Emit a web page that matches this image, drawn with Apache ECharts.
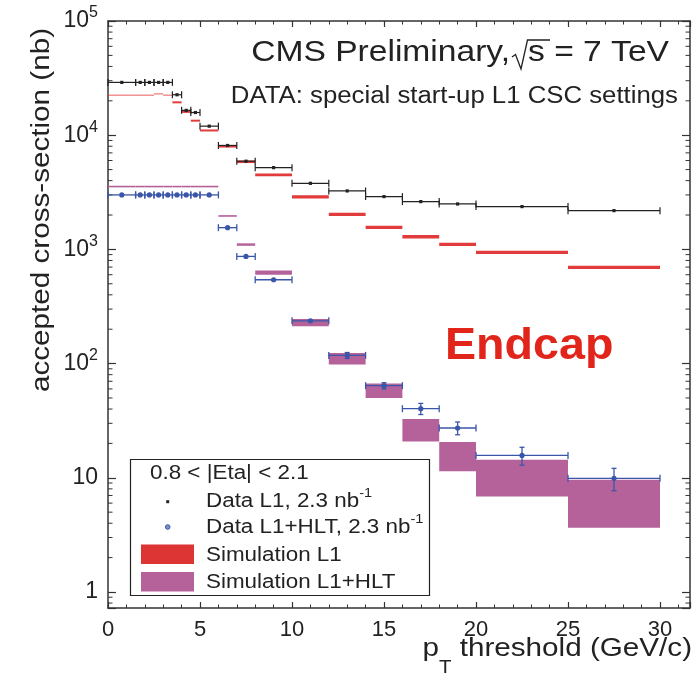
<!DOCTYPE html>
<html><head><meta charset="utf-8">
<script src="https://cdn.jsdelivr.net/npm/echarts@6/dist/echarts.min.js"></script>
<style>html,body{margin:0;padding:0;background:#fff}#c{width:695px;height:677px}</style>
</head><body><div id="c"></div>
<script>
// ---- data ----
const binEdges = [0, 1.5, 2, 2.5, 3, 3.5, 4, 4.5, 5, 6, 7, 8, 10, 12, 14, 16, 18, 20, 25, 30];
const dataL1 = [29000, 29000, 29000, 29000, 29000, 22600, 16500, 15800, 12000, 8130, 5920, 5200, 3790, 3250, 2900, 2620, 2500, 2370, 2185];
const dataHLT = [3000, 3000, 3000, 3000, 3000, 3000, 3000, 3000, 3000, 1550, 868, 542, 237, 118, 64, 40.3, 27.3, 15.7, 9.9];
const dataHLTErr = [0, 0, 0, 0, 0, 0, 0, 0, 0, 0, 0, 0, 4, 7, 4, 4.5, 3.5, 2.8, 2.2];
const simL1 = [22400, 22400, 22400, 23000, 22400, 19400, 16000, 13400, 11000, 8000, 5850, 4490, 2880, 2030, 1560, 1290, 1107, 942, 695];
const simHLTLo = [3500, 3500, 3500, 3500, 3500, 3500, 3500, 3500, 3500, 1930, 1075, 600, 212, 98, 50, 20.8, 11.4, 6.86, 3.66];
const simHLTHi = [3600, 3600, 3600, 3600, 3600, 3600, 3600, 3600, 3600, 1995, 1130, 655, 246, 124, 67, 32.7, 20.6, 14.4, 9.6];
const yDecades = [0, 1, 2, 3, 4, 5];
const minorMultipliers = [2, 3, 4, 5, 6, 7, 8, 9];

const X_MAX = 31.63, Y_MIN = 0.724, Y_MAX = 1e5;
const FONT = '"Liberation Sans", Arial, Helvetica, sans-serif';
const AX = '#333';
const RED = '#e23b3b', MAG = '#b5629b', BLUE = '#3a56a8', BLK = '#222';

const binData = (vals, extra) => vals.map((v, i) => [binEdges[i], binEdges[i + 1], v].concat(extra ? extra.map(a => a[i]) : []));

const minorVals = [];
[-1].concat(yDecades).forEach(d => minorMultipliers.forEach(m => {
  const v = m * Math.pow(10, d);
  if (v > Y_MIN && v < Y_MAX) minorVals.push([0, v]);
}));

const chart = echarts.init(document.getElementById('c'), null, {renderer: 'canvas'});

function yLabel(v) {
  const l = Math.log10(v), e = Math.round(l);
  if (Math.abs(l - e) > 1e-6 || yDecades.indexOf(e) < 0) return '';
  if (e === 0) return '{b|1}';
  if (e === 1) return '{b|10}';
  return '{b|10}{s|' + e + '}';
}

const axisCommon = {
  axisLine: {show: true, onZero: false, lineStyle: {color: AX, width: 1.5}},
  splitLine: {show: false}
};

function lineEl(x1, y1, x2, y2, color, w) {
  return {type: 'line', shape: {x1, y1, x2, y2}, style: {stroke: color, lineWidth: w}};
}

function txt(x, y, text, size, o) {
  o = o || {};
  const style = {
    text, fill: o.color || '#222', fontSize: size, fontFamily: FONT, fontWeight: o.weight || 'normal',
    textAlign: o.align || 'left', textVerticalAlign: 'middle', align: o.align || 'left', verticalAlign: 'middle'
  };
  if (o.rich) style.rich = o.rich;
  return {type: 'text', x, y, rotation: o.rot || 0, scaleX: o.sx || 1.12, z: 100, silent: true, style};
}

const supRich = (size) => ({
  n: {fontSize: size, fontFamily: FONT, fill: '#222', color: '#222', lineHeight: size + 8},
  s: {fontSize: Math.round(size * 0.65), fontFamily: FONT, fill: '#222', color: '#222', verticalAlign: 'top', lineHeight: Math.round(size * 0.65)}
});

const option = {
  animation: false,
  backgroundColor: '#fff',
  grid: {left: 108, top: 21, right: 5, bottom: 69, containLabel: false},
  xAxis: [
    Object.assign({}, axisCommon, {
      type: 'value', min: 0, max: X_MAX, interval: 5, position: 'bottom',
      axisTick: {show: true, inside: true, length: 6, lineStyle: {color: AX, width: 1.2}},
      minorTick: {show: true, splitNumber: 5, length: 3.5, lineStyle: {color: AX, width: 1}},
      axisLabel: {fontSize: 22, color: '#222', fontFamily: FONT, margin: 11, showMaxLabel: false, showMinLabel: true}
    }),
    Object.assign({}, axisCommon, {
      type: 'value', min: 0, max: X_MAX, interval: 5, position: 'top',
      axisTick: {show: true, inside: true, length: 6, lineStyle: {color: AX, width: 1.2}},
      minorTick: {show: true, splitNumber: 5, length: 3.5, lineStyle: {color: AX, width: 1}},
      axisLabel: {show: false}
    })
  ],
  yAxis: [
    Object.assign({}, axisCommon, {
      type: 'log', logBase: 10, min: Y_MIN, max: Y_MAX, position: 'left',
      axisTick: {show: true, inside: true, length: 8, lineStyle: {color: AX, width: 1.2}},
      minorTick: {show: false},
      axisLabel: {
        margin: 10, formatter: yLabel,
        rich: {
          b: {fontSize: 23, fontFamily: FONT, color: '#222', lineHeight: 32},
          s: {fontSize: 16, fontFamily: FONT, color: '#222', lineHeight: 15, verticalAlign: 'top'}
        }
      }
    }),
    Object.assign({}, axisCommon, {
      type: 'log', logBase: 10, min: Y_MIN, max: Y_MAX, position: 'right',
      axisTick: {show: true, inside: true, length: 8, lineStyle: {color: AX, width: 1.2}},
      minorTick: {show: false},
      axisLabel: {show: false}
    })
  ],
  series: [
    { // minor ticks of the log axis (left and right)
      type: 'custom', silent: true, xAxisIndex: 0, yAxisIndex: 0,
      data: minorVals, encode: {x: 0, y: 1},
      renderItem(p, api) {
        const v = api.value(1);
        const a = api.coord([0, v]), b = api.coord([X_MAX, v]);
        return {type: 'group', children: [
          lineEl(a[0], a[1], a[0] + 4.5, a[1], AX, 1),
          lineEl(b[0], b[1], b[0] - 4.5, b[1], AX, 1)
        ]};
      }
    },
    { // Simulation L1
      name: 'Simulation L1', type: 'custom', xAxisIndex: 0, yAxisIndex: 0,
      data: binData(simL1), encode: {x: [0, 1], y: 2},
      renderItem(p, api) {
        const x0 = api.value(0), x1 = api.value(1), y = api.value(2);
        const a = api.coord([x0, y]), b = api.coord([x1, y]);
        const h = x1 <= 3.5 ? 1.3 : (x1 <= 6 ? 2 : (x1 <= 10 ? 2.6 : 3.3));
        return {type: 'rect', shape: {x: a[0], y: a[1] - h / 2, width: b[0] - a[0], height: h},
          style: {fill: RED, opacity: x1 <= 3.5 ? 0.65 : 1}};
      }
    },
    { // Simulation L1+HLT
      name: 'Simulation L1+HLT', type: 'custom', xAxisIndex: 0, yAxisIndex: 0,
      data: binData(simHLTLo, [simHLTHi]), encode: {x: [0, 1], y: [2, 3]},
      renderItem(p, api) {
        const x0 = api.value(0), x1 = api.value(1), lo = api.value(2), hi = api.value(3);
        const a = api.coord([x0, hi]), b = api.coord([x1, lo]);
        let h = b[1] - a[1], yTop = a[1];
        if (h < 1.6) { yTop -= (1.6 - h) / 2; h = 1.6; }
        return {type: 'rect', shape: {x: a[0], y: yTop, width: b[0] - a[0], height: h}, style: {fill: MAG}};
      }
    },
    { // Data L1
      name: 'Data L1', type: 'custom', xAxisIndex: 0, yAxisIndex: 0,
      data: binData(dataL1), encode: {x: [0, 1], y: 2},
      renderItem(p, api) {
        const x0 = api.value(0), x1 = api.value(1), y = api.value(2);
        const a = api.coord([x0, y]), b = api.coord([x1, y]), c = api.coord([(x0 + x1) / 2, y]);
        return {type: 'group', children: [
          lineEl(a[0], a[1], b[0], b[1], BLK, 1.2),
          lineEl(a[0], a[1] - 3.5, a[0], a[1] + 3.5, BLK, 1.2),
          lineEl(b[0], b[1] - 3.5, b[0], b[1] + 3.5, BLK, 1.2),
          {type: 'rect', shape: {x: c[0] - 1.6, y: c[1] - 1.6, width: 3.2, height: 3.2}, style: {fill: BLK}}
        ]};
      }
    },
    { // Data L1+HLT
      name: 'Data L1+HLT', type: 'custom', xAxisIndex: 0, yAxisIndex: 0,
      data: binData(dataHLT, [dataHLTErr]), encode: {x: [0, 1], y: 2},
      renderItem(p, api) {
        const x0 = api.value(0), x1 = api.value(1), y = api.value(2), e = api.value(3);
        const a = api.coord([x0, y]), b = api.coord([x1, y]), c = api.coord([(x0 + x1) / 2, y]);
        const ch = [
          lineEl(a[0], a[1], b[0], b[1], BLUE, 1.3),
          lineEl(a[0], a[1] - 3.5, a[0], a[1] + 3.5, BLUE, 1.3),
          lineEl(b[0], b[1] - 3.5, b[0], b[1] + 3.5, BLUE, 1.3)
        ];
        if (e > 0) {
          const t = api.coord([(x0 + x1) / 2, y + e]), d = api.coord([(x0 + x1) / 2, y - e]);
          ch.push(lineEl(t[0], t[1], d[0], d[1], BLUE, 1.3));
          ch.push(lineEl(t[0] - 2.5, t[1], t[0] + 2.5, t[1], BLUE, 1.3));
          ch.push(lineEl(d[0] - 2.5, d[1], d[0] + 2.5, d[1], BLUE, 1.3));
        }
        ch.push({type: 'circle', shape: {cx: c[0], cy: c[1], r: 2.6}, style: {fill: BLUE}});
        return {type: 'group', children: ch};
      }
    }
  ],
  graphic: [
    txt(510, 53, 'CMS Preliminary,', 30, {align: 'right'}),
    {type: 'polyline', z: 100, silent: true, shape: {points: [[512, 57], [515.5, 54.5], [521, 69], [527.5, 40], [550, 40]]},
      style: {stroke: '#222', lineWidth: 1.3, fill: null}},
    txt(528, 53, 's = 7 TeV', 30),
    txt(678, 97, 'DATA: special start-up L1 CSC settings', 23, {align: 'right'}),
    txt(445, 347, 'Endcap', 44, {weight: 'bold', color: '#e1251b', sx: 1.06}),
    txt(692, 649, '{a|p}{t|T}{a| threshold (GeV/c)}', 26, {align: 'right', sx: 1.14, rich: {
      a: {fontSize: 26, fontFamily: FONT, fill: '#222', color: '#222', lineHeight: 56},
      t: {fontSize: 18, fontFamily: FONT, fill: '#222', color: '#222', lineHeight: 17, verticalAlign: 'bottom'}
    }}),
    txt(42, 210, 'accepted cross-section (nb)', 26, {align: 'center', rot: Math.PI / 2, sx: 1.14}),
    // legend
    {type: 'rect', z: 90, silent: true, shape: {x: 130.5, y: 459.5, width: 299, height: 136},
      style: {fill: '#fff', stroke: '#222', lineWidth: 1.2}},
    txt(150, 473, '0.8 < |Eta| < 2.1', 20),
    {type: 'rect', z: 100, silent: true, shape: {x: 166.2, y: 500.2, width: 3, height: 3}, style: {fill: BLK}},
    txt(206, 501, '{n|Data L1, 2.3 nb}{s|-1}', 20, {rich: supRich(20)}),
    {type: 'circle', z: 100, silent: true, shape: {cx: 167.7, cy: 527, r: 2.3}, style: {fill: '#7f90c8', stroke: BLUE, lineWidth: 1}},
    txt(206, 527, '{n|Data L1+HLT, 2.3 nb}{s|-1}', 20, {rich: supRich(20)}),
    {type: 'rect', z: 100, silent: true, shape: {x: 141, y: 544.5, width: 53, height: 19.5}, style: {fill: '#dd3434'}},
    txt(206, 555, 'Simulation L1', 20),
    {type: 'rect', z: 100, silent: true, shape: {x: 141, y: 572, width: 53, height: 19.5}, style: {fill: MAG}},
    txt(206, 582, 'Simulation L1+HLT', 20)
  ]
};
chart.setOption(option);
</script></body></html>
